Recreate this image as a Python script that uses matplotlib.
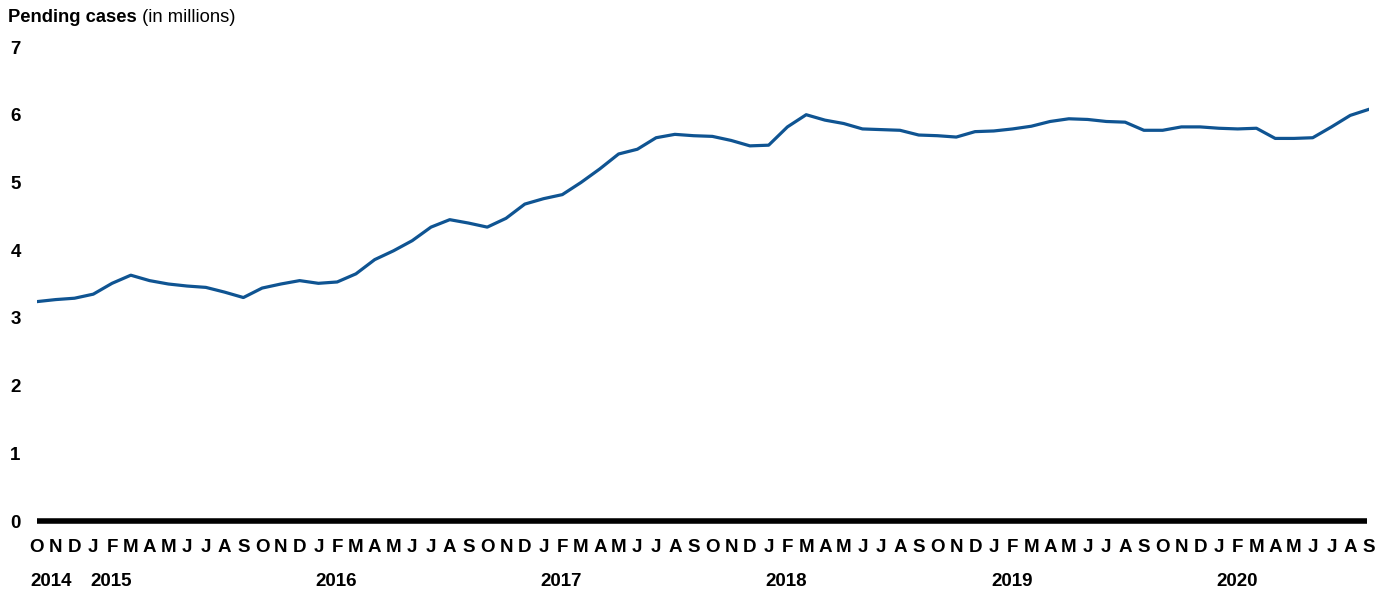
import matplotlib
matplotlib.use("Agg")
import matplotlib.pyplot as plt
import matplotlib.transforms as mtransforms

plt.rcParams['font.family'] = ['Liberation Sans', 'DejaVu Sans']

month_labels = list("ONDJFMAMJJAS") * 6
year_labels = ["2014", "2015", "2016", "2017", "2018", "2019", "2020"]
year_start_idx = [0, 3, 15, 27, 39, 51, 63]

pending = [
    3.24, 3.27, 3.29, 3.35, 3.51, 3.63, 3.55, 3.50, 3.47, 3.45, 3.38, 3.30,
    3.44, 3.50, 3.55, 3.51, 3.53, 3.65, 3.86, 3.99, 4.14, 4.34, 4.45, 4.40,
    4.34, 4.47, 4.68, 4.76, 4.82, 5.00, 5.20, 5.42, 5.49, 5.66, 5.71, 5.69,
    5.68, 5.62, 5.54, 5.55, 5.82, 6.00, 5.92, 5.87, 5.79, 5.78, 5.77, 5.70,
    5.69, 5.67, 5.75, 5.76, 5.79, 5.83, 5.90, 5.94, 5.93, 5.90, 5.89, 5.77,
    5.77, 5.82, 5.82, 5.80, 5.79, 5.80, 5.65, 5.65, 5.66, 5.82, 5.99, 6.08,
]
y_ticks = [0, 1, 2, 3, 4, 5, 6, 7]

W, H = 1387, 592
fig = plt.figure(figsize=(W / 100, H / 100), dpi=100)
ax = fig.add_axes([37 / W, (H - 521) / H, (1369 - 37) / W, (521 - 47) / H])

x = list(range(len(pending)))
ax.plot(x, pending, color='#0f5492', linewidth=2.3, solid_joinstyle='round', zorder=3)

ax.set_xlim(0, len(pending) - 1)
ax.set_ylim(0, 7)
for s in ['top', 'right', 'left']:
    ax.spines[s].set_visible(False)
ax.spines['bottom'].set_linewidth(4)
ax.spines['bottom'].set_color('black')
ax.spines['bottom'].set_capstyle('butt')
ax.spines['bottom'].set_bounds(0, len(pending) - 1.1)

ax.set_yticks(y_ticks)
ax.set_yticklabels([str(v) for v in y_ticks], fontsize=13.5, fontweight='bold')
ax.tick_params(axis='y', length=0, pad=15.5)
for lab in ax.get_yticklabels():
    lab.set_horizontalalignment('center')

ax.set_xticks(x)
ax.set_xticklabels(month_labels, fontsize=13.5, fontweight='bold')
ax.tick_params(axis='x', length=0, pad=13)

trans = mtransforms.blended_transform_factory(ax.transData, fig.transFigure)
for yl, idx in zip(year_labels, year_start_idx):
    xpos = idx - 0.35 if idx == 0 else idx - 0.15
    ax.text(xpos, 1 - 581 / H, yl, transform=trans, fontsize=13.5, fontweight='bold',
            ha='left', va='center')

t1 = fig.text(8 / W, 1 - 17 / H, "Pending cases", fontsize=13.2, fontweight='bold',
              ha='left', va='center')
fig.canvas.draw()
bb = t1.get_window_extent(renderer=fig.canvas.get_renderer())
fig.text(bb.x1 / W, 1 - 17 / H, " (in millions)", fontsize=13.2, fontweight='normal',
         ha='left', va='center')

fig.savefig('out.png', dpi=100)
